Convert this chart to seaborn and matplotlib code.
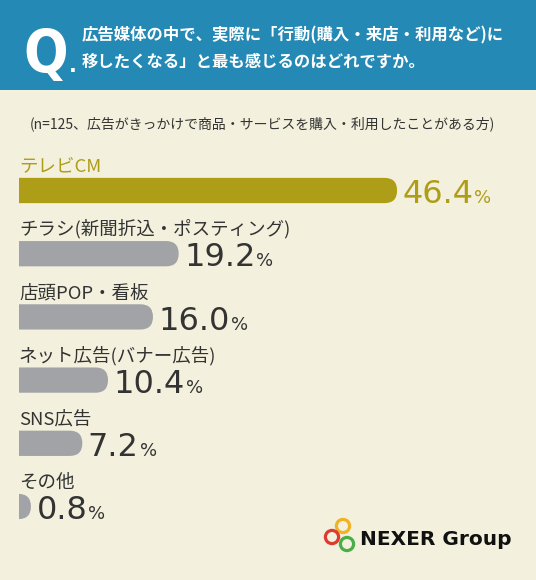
import matplotlib
matplotlib.use('Agg')
import matplotlib.pyplot as plt
from matplotlib.patches import FancyBboxPatch, Rectangle, Circle
import seaborn as sns
import pandas as pd

# data
categories = ['テレビCM', 'チラシ(新聞折込・ポスティング)', '店頭POP・看板',
              'ネット広告(バナー広告)', 'SNS広告', 'その他']
values = [46.4, 19.2, 16.0, 10.4, 7.2, 0.8]
bar_colors = ['#AE9D17', '#A2A3A7', '#A2A3A7', '#A2A3A7', '#A2A3A7', '#A2A3A7']
text_colors = ['#AE9D17', '#333333', '#333333', '#333333', '#333333', '#333333']

question = ['広告媒体の中で、実際に「行動(購入・来店・利用など)に',
            '移したくなる」と最も感じるのはどれですか。']
subtitle = '(n=125、広告がきっかけで商品・サービスを購入・利用したことがある方)'

BG = '#F3F1DD'
BLUE = '#2489B4'
JP = ['Noto Sans CJK JP', 'DejaVu Sans']

sns.set_theme(style='white')
plt.rcParams['font.family'] = JP

W, H = 536, 580
fig = plt.figure(figsize=(W / 100, H / 100), dpi=100, facecolor=BG)

# header band
fig.patches.append(Rectangle((0, 1 - 90 / H), 1, 90 / H, transform=fig.transFigure,
                             facecolor=BLUE, edgecolor='none', zorder=0))
q = fig.text(23 / W, 1 - 72 / H, 'Q', color='white', fontsize=42, fontweight='bold',
             family='DejaVu Sans', fontstretch='condensed', va='baseline', ha='left')
fig.text(82 / W, 1 - 35 / H, question[0], color='white', fontsize=11.8,
         fontweight='bold', va='center', ha='left')
fig.text(82 / W, 1 - 62 / H, question[1], color='white', fontsize=11.8,
         fontweight='bold', va='center', ha='left')
fig.text(262 / W, 1 - 124 / H, subtitle, color='#333333', fontsize=10,
         va='center', ha='center')

# bars
df = pd.DataFrame({'cat': categories, 'val': values})
px_per = 8.03
x0_px, zero_px = 19, 24.5
xmin = -(zero_px - x0_px) / px_per
xmax = 50
ax_w = (xmax - xmin) * px_per
row = 63.2
top_px = 190.5 - row / 2
ax = fig.add_axes([x0_px / W, 1 - (top_px + 6 * row) / H, ax_w / W, 6 * row / H])
ax.set_facecolor('none')
sns.barplot(data=df, x='val', y='cat', hue='cat', palette=bar_colors, orient='h',
            width=0.40, legend=False, ax=ax, saturation=1)
ax.set_xlim(xmin, xmax)
ax.set_ylim(5.5, -0.5)
ax.axis('off')

# rounded right end
for p in list(ax.patches):
    x, y, w, h = p.get_x(), p.get_y(), p.get_width(), p.get_height()
    r_x = (h * row / 2) / px_per
    asp = (h / 2) / r_x
    ext = 5
    fb = FancyBboxPatch((x - ext, y), w + ext, h,
                        boxstyle=f'round,pad=0,rounding_size={r_x * 0.999}',
                        mutation_aspect=asp, facecolor=p.get_facecolor(),
                        edgecolor='none')
    p.remove()
    ax.add_patch(fb)

nums = []
for i, (c, v) in enumerate(zip(categories, values)):
    ax.annotate(c, xy=(xmin, i - 0.2), xytext=(0, 4.5), textcoords='offset points',
                fontsize=13.3, color=text_colors[i],
                va='baseline', ha='left', annotation_clip=False)
    num = ax.annotate(f'{v:.1f}', xy=(v, i + 0.2), xytext=(4, 0),
                      textcoords='offset points', fontsize=23, family='DejaVu Sans',
                      color=text_colors[i], va='baseline', ha='left',
                      annotation_clip=False)
    nums.append(num)

# put the % sign right after each number, same baseline; the dot after Q too
fig.canvas.draw()
rend = fig.canvas.get_renderer()
for i, (num, v) in enumerate(zip(nums, values)):
    wpt = num.get_window_extent(rend).width * 72 / fig.dpi
    ax.annotate('%', xy=(v, i + 0.2), xytext=(4 + wpt + 0.5, 0),
                textcoords='offset points', fontsize=13, family='DejaVu Sans',
                color=text_colors[i], va='baseline', ha='left',
                annotation_clip=False)
qx1 = q.get_window_extent(rend).x1
fig.text((qx1 + 1) / W, 1 - 72 / H, '.', color='white', fontsize=15, fontweight='bold',
         family='DejaVu Sans', va='baseline', ha='left')

# logo
for (cx, cy, col) in [(343, 526, '#F0B323'), (332, 537, '#DD3B2F'), (347, 544, '#4AAE47')]:
    fig.add_artist(Circle((cx / 100, (H - cy) / 100), 0.066, transform=fig.dpi_scale_trans,
                          facecolor='none', edgecolor=col, linewidth=2.3))
fig.text(360 / W, (H - 545) / H, 'NEXER Group', fontsize=14.5, fontweight='bold',
         family='DejaVu Sans', color='#111111', va='baseline', ha='left')

fig.savefig('out.png', dpi=100, facecolor=BG)
